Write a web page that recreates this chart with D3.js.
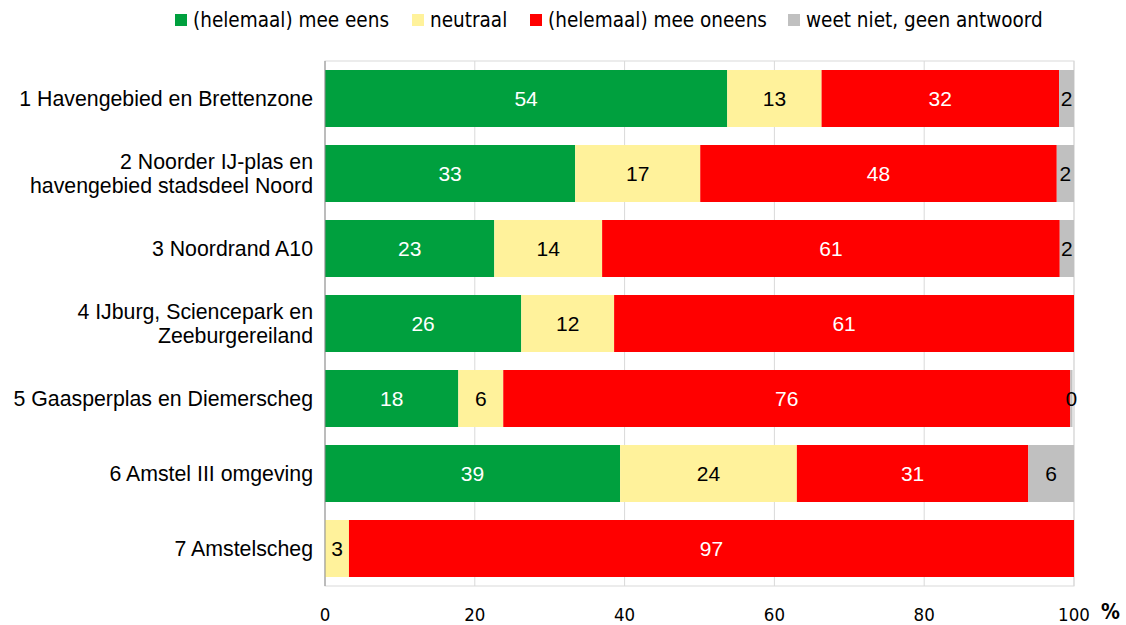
<!DOCTYPE html>
<html>
<head>
<meta charset="utf-8">
<script src="https://cdn.jsdelivr.net/npm/d3@7"></script>
<style>
  body { margin: 0; background: #fff; }
</style>
</head>
<body>
<script>
const width = 1126;
const height = 625;

const margin = { left: 325, right: 52, top: 61, bottom: 39 };

// data
const areas = [
    ["1 Havengebied en Brettenzone"],
    ["2 Noorder IJ-plas en", "havengebied stadsdeel Noord"],
    ["3 Noordrand A10"],
    ["4 IJburg, Sciencepark en", "Zeeburgereiland"],
    ["5 Gaasperplas en Diemerscheg"],
    ["6 Amstel III omgeving"],
    ["7 Amstelscheg"]
];
const seriesNames = ["(helemaal) mee eens", "neutraal", "(helemaal) mee oneens", "weet niet, geen antwoord"];
const seriesColors = ["#00a03e", "#fff29b", "#ff0000", "#c0c0c0"];
const labelColors = ["#fff", "#000", "#fff", "#000"];
const eens    = [53.7, 33.4, 22.6, 26.2, 17.8, 39.4, 0];
const neutraal = [12.6, 16.7, 14.4, 12.4, 6.0, 23.6, 3.2];
const oneens  = [31.7, 47.6, 61.1, 61.4, 75.7, 30.9, 96.8];
const weetNiet = [2.0, 2.3, 1.9, 0, 0.3, 6.1, 0];
const xTicks = [0, 20, 40, 60, 80, 100];

const rows = areas.map((a, i) => {
    let obj = { key: i, name: a };
    obj[0] = eens[i];
    obj[1] = neutraal[i];
    obj[2] = oneens[i];
    obj[3] = weetNiet[i];
    return obj;
});

const stacked = d3.stack().keys([0, 1, 2, 3])(rows);

let svg = d3.select("body").append("svg")
    .attr("width", width)
    .attr("height", height);

let xScale = d3.scaleLinear()
    .domain([0, 100])
    .range([margin.left, width - margin.right]);

let yScale = d3.scaleBand()
    .domain(rows.map(d => d.key))
    .range([margin.top, height - margin.bottom])
    .paddingInner(0.24)
    .paddingOuter(0.12);

// plot frame + gridlines
svg.append("rect")
    .attr("x", xScale(0))
    .attr("y", margin.top)
    .attr("width", xScale(100) - xScale(0))
    .attr("height", height - margin.bottom - margin.top)
    .attr("fill", "none")
    .attr("stroke", "#d9d9d9");

svg.append("g")
    .selectAll("line")
    .data(xTicks.slice(1))
    .enter().append("line")
    .attr("x1", d => xScale(d))
    .attr("x2", d => xScale(d))
    .attr("y1", margin.top)
    .attr("y2", height - margin.bottom)
    .attr("stroke", "#d9d9d9");

// bars
let groups = svg.selectAll(".serie")
    .data(stacked)
    .enter().append("g")
    .attr("class", "serie")
    .attr("fill", (d, i) => seriesColors[i]);

groups.selectAll("rect")
    .data(d => d)
    .enter().append("rect")
    .attr("x", d => xScale(d[0]))
    .attr("y", d => yScale(d.data.key))
    .attr("width", d => xScale(d[1]) - xScale(d[0]))
    .attr("height", yScale.bandwidth());

// value labels
groups.each(function(s, i) {
    d3.select(this).selectAll("text")
        .data(s.filter(d => d[1] - d[0] > 0))
        .enter().append("text")
        .attr("x", d => (xScale(d[0]) + xScale(d[1])) / 2)
        .attr("y", d => yScale(d.data.key) + yScale.bandwidth() / 2)
        .attr("dy", "0.35em")
        .attr("text-anchor", "middle")
        .attr("fill", labelColors[i])
        .style("font-family", "'Liberation Sans', Arial, sans-serif")
        .style("font-size", "21px")
        .text(d => Math.round(d[1] - d[0]));
});

// left axis line
svg.append("line")
    .attr("x1", xScale(0))
    .attr("x2", xScale(0))
    .attr("y1", margin.top)
    .attr("y2", height - margin.bottom)
    .attr("stroke", "#8c8c8c");

// category labels
let cats = svg.append("g")
    .selectAll("text")
    .data(rows)
    .enter().append("text")
    .attr("text-anchor", "end")
    .attr("fill", "#000")
    .style("font-family", "'Liberation Sans', Arial, sans-serif")
    .style("font-size", "21.3px")
    .attr("y", d => yScale(d.key) + yScale.bandwidth() / 2);

cats.selectAll("tspan")
    .data(d => d.name.map((t, j) => ({ t: t, j: j, n: d.name.length })))
    .enter().append("tspan")
    .attr("x", xScale(0) - 12)
    .attr("dy", d => d.j === 0 ? (0.35 - (d.n - 1) * 0.58) + "em" : "1.16em")
    .text(d => d.t);

// x axis tick labels
svg.append("g")
    .selectAll("text")
    .data(xTicks)
    .enter().append("text")
    .attr("x", d => xScale(d))
    .attr("y", 621)
    .attr("text-anchor", "middle")
    .attr("fill", "#000")
    .style("font-family", "'DejaVu Sans Condensed', 'Liberation Sans Narrow', sans-serif")
    .style("font-size", "18.5px")
    .text(d => d);

svg.append("text")
    .attr("x", xScale(100) + 27)
    .attr("y", 619)
    .attr("text-anchor", "start")
    .style("font-family", "'DejaVu Sans Condensed', sans-serif")
    .style("font-size", "21px")
    .style("font-weight", "bold")
    .text("%");

// legend
const legendX = [175, 412, 530, 788];
let legend = svg.append("g")
    .selectAll("g")
    .data(seriesNames)
    .enter().append("g")
    .attr("transform", (d, i) => `translate(${legendX[i]}, 20)`);

legend.append("rect")
    .attr("x", 0)
    .attr("y", -6)
    .attr("width", 12)
    .attr("height", 12)
    .attr("fill", (d, i) => seriesColors[i]);

legend.append("text")
    .attr("x", 18)
    .attr("dy", "0.35em")
    .attr("fill", "#000")
    .style("font-family", "'DejaVu Sans Condensed', 'Liberation Sans Narrow', sans-serif")
    .style("font-size", "20.5px")
    .text(d => d);
</script>
</body>
</html>
